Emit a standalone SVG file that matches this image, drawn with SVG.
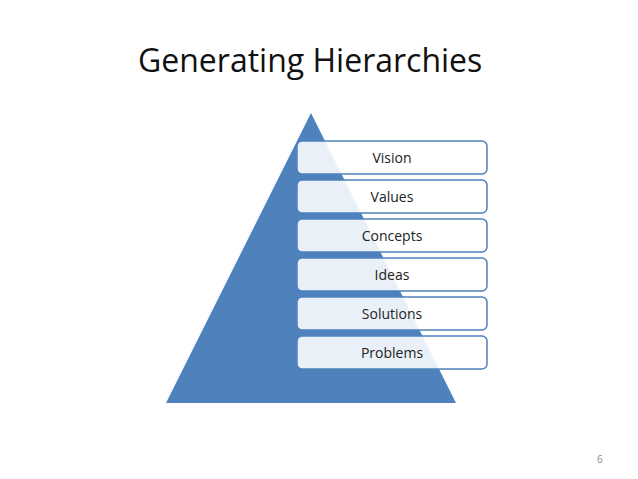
<svg xmlns="http://www.w3.org/2000/svg" width="638" height="479" viewBox="0 0 638 479">
<style>
.b{fill:#ffffff;fill-opacity:0.88;stroke:#4f81bd;stroke-width:1.5}
.t{font-family:"Open Sans","Liberation Sans",sans-serif;font-size:14px;fill:#222;text-anchor:middle}
</style>
<rect width="638" height="479" fill="#fff"/>
<text x="138" y="72" font-family="Open Sans, Liberation Sans, sans-serif" font-size="32" fill="#111">Generating Hierarchies</text>
<g id="pyramid"><polygon points="311,113 166,403 456,403" fill="#4f81bd"/></g>
<g id="vision"><rect class="b" x="297" y="141" width="190" height="33" rx="5"/><text class="t" x="392" y="163">Vision</text></g>
<g id="values"><rect class="b" x="297" y="180" width="190" height="33" rx="5"/><text class="t" x="392" y="202">Values</text></g>
<g id="concepts"><rect class="b" x="297" y="219" width="190" height="33" rx="5"/><text class="t" x="392" y="241">Concepts</text></g>
<g id="ideas"><rect class="b" x="297" y="258" width="190" height="33" rx="5"/><text class="t" x="392" y="280">Ideas</text></g>
<g id="solutions"><rect class="b" x="297" y="297" width="190" height="33" rx="5"/><text class="t" x="392" y="319">Solutions</text></g>
<g id="problems"><rect class="b" x="297" y="336" width="190" height="33" rx="5"/><text class="t" x="392" y="358">Problems</text></g>
<g id="connectors"/>
<text x="597" y="463" font-family="Open Sans, Liberation Sans, sans-serif" font-size="10" fill="#888">6</text>
</svg>
